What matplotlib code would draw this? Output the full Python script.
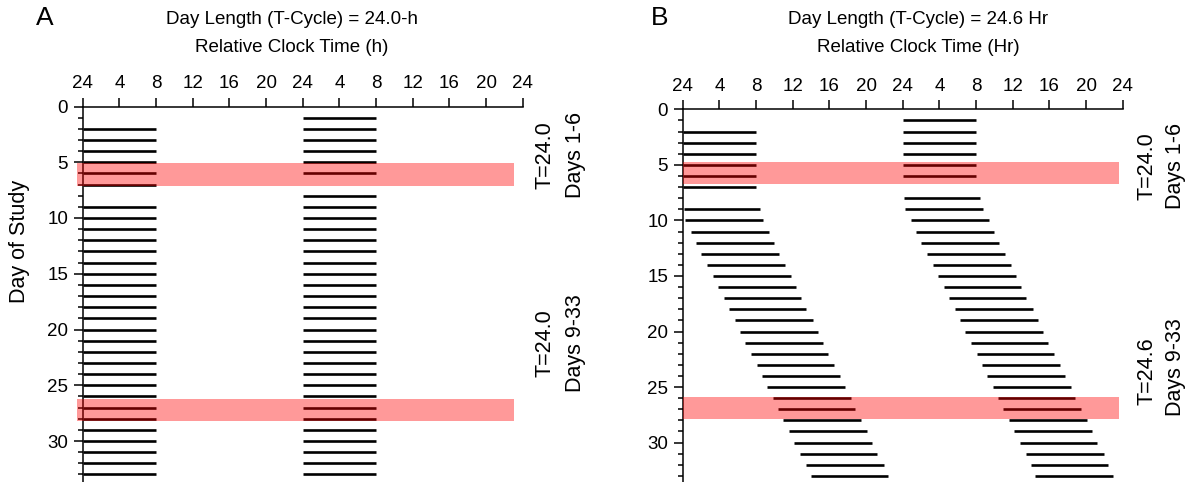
import matplotlib
matplotlib.use("Agg")
import matplotlib.pyplot as plt
import numpy as np
from matplotlib.ticker import MultipleLocator, NullLocator

plt.rcParams["font.family"] = ["Liberation Sans", "DejaVu Sans"]

# ---------------------------------------------------------------- data
HOUR_TICKS = [0, 4, 8, 12, 16, 20, 24, 28, 32, 36, 40, 44, 48]
HOUR_LABELS = ["24", "4", "8", "12", "16", "20", "24", "4", "8", "12", "16", "20", "24"]

# study days that have a sleep episode (double plotted: day d on row d, and on row d-1 shifted +24 h)
SLEEP_DAYS = [2, 3, 4, 5, 6, 7,
              9, 10, 11, 12, 13, 14, 15, 16, 17, 18, 19, 20, 21,
              22, 23, 24, 25, 26, 27, 28, 29, 30, 31, 32, 33, 34]

# panel A, T = 24.0 h all through
A_ONSET = [0, 0, 0, 0, 0, 0,
           0, 0, 0, 0, 0, 0, 0, 0, 0, 0, 0, 0, 0,
           0, 0, 0, 0, 0, 0, 0, 0, 0, 0, 0, 0, 0]
A_OFFSET = [8, 8, 8, 8, 8, 8,
            8, 8, 8, 8, 8, 8, 8, 8, 8, 8, 8, 8, 8,
            8, 8, 8, 8, 8, 8, 8, 8, 8, 8, 8, 8, 8]

# panel B, T = 24.0 h for days 1-6, then T = 24.6 h
B_ONSET = [0, 0, 0, 0, 0, 0,
           0.13, 0.3, 0.9, 1.4, 2.05, 2.6, 3.3, 3.8, 4.5, 5.05, 5.7, 6.25, 6.8,
           7.45, 8.1, 8.6, 9.2, 9.8, 10.35, 10.95, 11.6, 12.1, 12.75, 13.5, 14.0, 14.4]
B_OFFSET = [8.05, 8.05, 8.05, 8.05, 8.05, 8.05,
            8.45, 8.8, 9.45, 9.95, 10.55, 11.15, 11.8, 12.35, 12.9, 13.5, 14.2, 14.75, 15.3,
            15.9, 16.5, 17.15, 17.7, 18.35, 18.85, 19.45, 20.1, 20.6, 21.25, 21.95, 22.45, 22.9]

# highlighted days (row ranges) and their clock-time extent
A_BANDS = [(5.1, 7.1), (26.2, 28.2)]
A_BAND_X = (-0.65, 47.0)
B_BANDS = [(4.75, 6.75), (25.9, 27.9)]
B_BAND_X = (0.0, 47.6)

W, H = 1193, 482
FS = 13.5
FS_SIDE = 15.5


def px(x, y):
    return x / W, 1 - y / H


def draw_panel(ax, onset, offset, bands, band_x, ymax):
    days = np.array(SLEEP_DAYS, dtype=float)
    on = np.array(onset, dtype=float)
    off = np.array(offset, dtype=float)
    ax.hlines(days, on, off, color="black", lw=1.9, zorder=2)
    ax.hlines(days - 1, on + 24, off + 24, color="black", lw=1.9, zorder=2)
    for y0, y1 in bands:
        ax.fill_betweenx([y0, y1], band_x[0], band_x[1], color="red", alpha=0.4,
                         lw=0, zorder=3, clip_on=False)

    ax.set_xlim(0, 48)
    ax.set_ylim(ymax, 0)
    ax.xaxis.tick_top()
    ax.set_xticks(HOUR_TICKS)
    ax.set_xticklabels(HOUR_LABELS)
    ax.xaxis.set_minor_locator(NullLocator())
    ax.yaxis.set_major_locator(MultipleLocator(5))
    ax.yaxis.set_minor_locator(MultipleLocator(1))
    ax.tick_params(axis="both", which="major", direction="out", length=6.5, width=1.1,
                   labelsize=FS, pad=4)
    ax.tick_params(axis="y", which="minor", direction="out", length=3.5, width=1.1)
    for s in ("right", "bottom"):
        ax.spines[s].set_visible(False)
    for s in ("top", "left"):
        ax.spines[s].set_linewidth(1.1)


fig = plt.figure(figsize=(W / 100, H / 100), dpi=100)

axA = fig.add_axes([82.7 / W, 0, 440 / W, 1 - 106.5 / H])
axB = fig.add_axes([682.7 / W, 0, 440 / W, 1 - 109.3 / H])

draw_panel(axA, A_ONSET, A_OFFSET, A_BANDS, A_BAND_X, (H - 106.5) / 11.15)
draw_panel(axB, B_ONSET, B_OFFSET, B_BANDS, B_BAND_X, (H - 109.3) / 11.11)

fig.text(*px(20, 241), "Day of Study", fontsize=FS_SIDE, rotation=90,
         ha="center", va="center")

# panel letters and headings
fig.text(*px(45, 18), "A", fontsize=19, ha="center", va="center")
fig.text(*px(660, 18), "B", fontsize=19, ha="center", va="center")
fig.text(*px(292, 19), "Day Length (T-Cycle) = 24.0-h", fontsize=FS, ha="center", va="center")
fig.text(*px(292, 47), "Relative Clock Time (h)", fontsize=FS, ha="center", va="center")
fig.text(*px(918, 19), "Day Length (T-Cycle) = 24.6 Hr", fontsize=FS, ha="center", va="center")
fig.text(*px(918, 47), "Relative Clock Time (Hr)", fontsize=FS, ha="center", va="center")

# condition labels on the right of each panel
side = [
    (545, 155, "T=24.0"), (575, 155, "Days 1-6"),
    (545, 343, "T=24.0"), (575, 343, "Days 9-33"),
    (1147, 166, "T=24.0"), (1175, 166, "Days 1-6"),
    (1147, 371, "T=24.6"), (1175, 367, "Days 9-33"),
]
for x, y, s in side:
    fig.text(*px(x, y), s, fontsize=FS_SIDE, rotation=90, ha="center", va="center")

fig.savefig("out.png", dpi=100)
